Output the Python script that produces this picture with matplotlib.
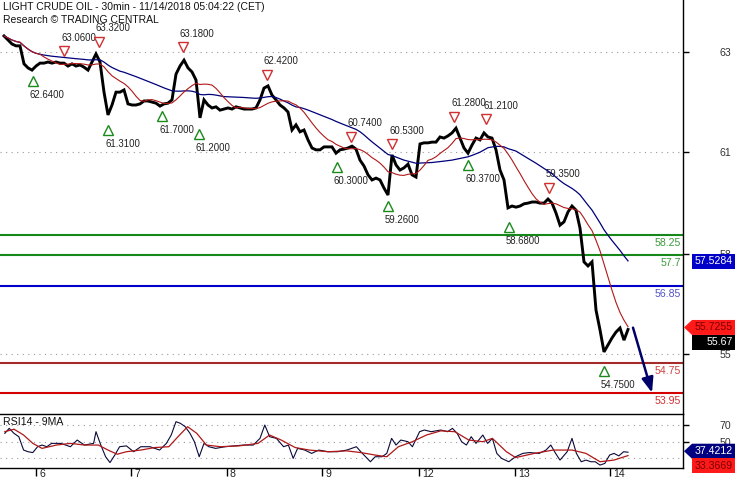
import numpy as np
import pandas as pd
import matplotlib
matplotlib.use("Agg")
import matplotlib.pyplot as plt
from matplotlib.patches import Polygon
from matplotlib import transforms

plt.rcParams['font.family'] = ['Liberation Sans', 'DejaVu Sans']

# ---------------- data ----------------
title = "LIGHT CRUDE OIL - 30min - 11/14/2018 05:04:22 (CET)"
subtitle = "Research \u00a9 TRADING CENTRAL"

# hourly closes (index 0 .. 156)
close = [
    63.66, 63.55, 63.44, 63.39, 63.39, 62.90, 62.79, 62.73, 62.84, 62.92,
    62.92, 62.95, 62.92, 62.95, 62.92, 62.92, 62.84, 62.90, 62.84, 62.87,
    62.81, 62.73, 62.95, 63.17, 62.95, 62.13, 61.51, 61.78, 62.13, 62.13,
    62.19, 61.81, 61.78, 61.78, 61.81, 61.89, 61.89, 61.86, 61.83, 61.75,
    61.81, 61.83, 61.92, 62.62, 62.84, 63.00, 62.79, 62.68, 62.46, 61.43,
    61.92, 61.78, 61.70, 61.73, 61.64, 61.67, 61.70, 61.67, 61.73, 61.70,
    61.67, 61.67, 61.67, 61.70, 61.92, 62.24, 62.30, 62.05, 61.92, 61.78,
    61.70, 61.59, 61.10, 61.24, 61.05, 61.10, 60.83, 60.61, 60.56, 60.56,
    60.64, 60.64, 60.64, 60.47, 60.56, 60.58, 60.61, 60.66, 60.58, 60.28,
    60.12, 59.88, 59.74, 59.79, 59.74, 59.52, 59.33, 60.42, 60.15, 60.01,
    60.07, 60.17, 59.88, 59.82, 60.72, 60.75, 60.75, 60.77, 60.77, 60.91,
    60.88, 60.94, 61.02, 61.15, 60.88, 60.61, 60.47, 60.69, 60.88, 60.83,
    61.02, 60.91, 60.88, 60.56, 60.01, 59.74, 58.98, 59.03, 59.00, 59.03,
    59.09, 59.11, 59.14, 59.14, 59.11, 59.11, 59.22, 59.11, 58.84, 58.51,
    58.60, 58.87, 59.03, 58.92, 58.43, 57.51, 57.40, 57.51, 56.20, 55.66,
    55.06, 55.25, 55.44, 55.60, 55.71, 55.38, 55.67,
]
fast_window = 10
slow_window = 25

day_labels = ['6', '7', '8', '9', '12', '13', '14']
day_pos = [8, 31.75, 55.75, 79.5, 103.75, 127.75, 151.5]

peak_x = [15, 23.75, 44.75, 65.75, 86.75, 97, 112.5, 120.5, 136.25]
peak_v = [63.06, 63.32, 63.18, 62.42, 60.74, 60.53, 61.28, 61.21, 59.35]
trough_x = [7.25, 26, 39.5, 48.75, 83.25, 95.9, 116, 126.2, 149.9]
trough_v = [62.64, 61.31, 61.70, 61.20, 60.30, 59.26, 60.37, 58.68, 54.75]

levels = [58.25, 57.7, 56.85, 54.75, 53.95]
level_labels = ['58.25', '57.7', '56.85', '54.75', '53.95']
level_colors = ['#16881a', '#16881a', '#0000c8', '#a52a2a', '#d40000']
level_text_colors = ['#3a9a3a', '#3a9a3a', '#5252c8', '#d04040', '#d03030']

arrow_from = (157.25, 55.72)
arrow_to = (162.0, 53.95)

price_ticks = [55.00, 57.72, 60.50, 63.23]
price_tick_labels = ['55', '58', '61', '63']

slow_last = '57.5284'
fast_last = '55.7255'
close_last = '55.67'

rsi_x = [0.2, 1.3, 2.5, 3.7, 4.9, 6.0, 7.2, 8.4, 9.5, 10.7,
         11.9, 14.2, 16.6, 18.3, 20.1, 22.4, 23.0, 24.2, 25.4, 26.5,
         27.7, 28.9, 30.6, 32.4, 34.2, 36.5, 38.9, 40.6, 41.8, 43.0,
         44.1, 45.3, 46.5, 47.6, 48.8, 50.0, 51.2, 52.9, 55.3, 57.6,
         59.9, 62.3, 64.0, 65.2, 66.4, 68.1, 69.9, 71.1, 72.3, 73.4,
         75.2, 76.9, 78.7, 81.0, 83.4, 85.7, 88.1, 89.2, 90.4, 91.6,
         92.8, 94.5, 95.7, 96.9, 98.0, 99.2, 101.0, 102.1, 103.9, 105.1,
         106.8, 109.2, 110.9, 112.1, 113.3, 114.4, 115.6, 116.8, 118.0, 119.7,
         120.9, 122.1, 123.2, 124.4, 126.2, 127.9, 129.7, 131.4, 133.8, 135.5,
         136.7, 137.9, 139.0, 140.8, 142.0, 143.1, 144.3, 145.5, 146.7, 147.8,
         149.0, 150.2, 151.4, 152.5, 153.7, 154.9, 156.0]
rsi_v = [60, 66, 60, 56, 40, 38, 37, 44, 46, 44,
         48, 48, 44, 52, 46, 48, 62, 46, 32, 25,
         34, 44, 45, 38, 44, 44, 40, 48, 58, 74,
         72, 68, 60, 50, 32, 48, 44, 42, 44, 45,
         46, 46, 54, 70, 56, 54, 44, 46, 30, 42,
         40, 36, 40, 38, 38, 40, 44, 38, 32, 26,
         32, 32, 36, 54, 46, 52, 50, 44, 62, 64,
         62, 64, 62, 66, 60, 50, 46, 56, 48, 58,
         48, 54, 36, 30, 26, 32, 36, 37, 36, 40,
         46, 36, 28, 38, 54, 36, 26, 28, 26, 26,
         22, 24, 34, 36, 33, 38, 37.42]
rsima_x = [0.2, 2.5, 4.9, 7.2, 9.5, 13.1, 16.6, 20.1, 23.6, 26.0,
           28.3, 30.6, 34.2, 37.7, 41.2, 43.5, 45.9, 48.2, 50.6, 54.1,
           58.8, 63.5, 66.4, 69.3, 72.8, 76.3, 81.0, 85.7, 89.2, 92.8,
           95.7, 98.6, 102.1, 105.6, 109.2, 112.7, 116.2, 119.7, 122.1, 125.6,
           127.9, 132.6, 137.3, 142.0, 145.5, 149.0, 152.5, 156.0]
rsima_v = [62, 65, 58, 48, 42, 46, 48, 46, 46, 40,
           35, 38, 40, 43, 44, 56, 68, 60, 46, 44,
           45, 48, 58, 52, 43, 40, 38, 39, 37, 34,
           32, 44, 50, 58, 63, 62, 52, 50, 54, 38,
           31, 36, 40, 40, 36, 26, 28, 33.37]
rsi_ticks = [30, 50, 70]
rsi_last = '37.4212'
rsima_last = '33.3669'

# ---------------- figure ----------------
W, H = 735, 480
fig = plt.figure(figsize=(W / 100, H / 100), dpi=100)
AXR = 683  # right edge of plot area (px)
ax = fig.add_axes([0, (H - 414) / H, AXR / W, 414 / H])
axr = fig.add_axes([0, 12 / H, AXR / W, 54 / H])

xs = np.arange(len(close))
s = pd.Series(close)
fast = s.rolling(fast_window, min_periods=1).mean()
slow = s.rolling(slow_window, min_periods=1).mean()

XL = (-1, 169.75)
ax.set_xlim(*XL)
ax.set_ylim(53.37, 64.638)

grid_kw = dict(color='#9a9a9a', lw=0.8, ls=(0, (1, 4)))
for t in price_ticks:
    ax.axhline(t, **grid_kw, zorder=0)

ax.plot(xs, close, color='black', lw=2.1, zorder=3, solid_joinstyle='miter')
ax.plot(xs, slow, color='#00007a', lw=0.9, zorder=4)
ax.plot(xs, fast, color='#b01818', lw=0.8, zorder=4)

for lv, lab, c, tc in zip(levels, level_labels, level_colors, level_text_colors):
    ax.axhline(lv, color=c, lw=1.5, zorder=2)
    ax.annotate(lab, xy=(1, lv), xycoords=('axes fraction', 'data'),
                xytext=(-2, -8), textcoords='offset pixels', ha='right',
                va='center', color=tc, fontsize=7.6)

up_tr = transforms.offset_copy(ax.transData, fig=fig, x=0, y=6.5, units='dots')
dn_tr = transforms.offset_copy(ax.transData, fig=fig, x=0, y=-8, units='dots')
lbl_kw = dict(textcoords='offset pixels', ha='left', va='center',
              fontsize=6.9, color='#222222')
ax.plot(peak_x, peak_v, transform=up_tr, marker='v', ms=7.5, mfc='white',
        mec='#d03030', mew=1.0, zorder=6, linestyle='none')
ax.plot(trough_x, trough_v, transform=dn_tr, marker='^', ms=7.5, mfc='white',
        mec='#1a8a1a', mew=1.0, zorder=6, linestyle='none')
for x, v in zip(peak_x, peak_v):
    ax.annotate(f"{v:.4f}", xy=(x, v), xytext=(-3, 20), **lbl_kw)
for x, v in zip(trough_x, trough_v):
    ax.annotate(f"{v:.4f}", xy=(x, v), xytext=(-3, -22), **lbl_kw)

ax.annotate('', xy=arrow_to, xytext=arrow_from,
            arrowprops=dict(arrowstyle='-|>,head_length=0.9,head_width=0.35',
                            color='#00006a', lw=1.8, shrinkA=0, shrinkB=0),
            zorder=7)

for sp in ['left', 'top', 'bottom']:
    ax.spines[sp].set_visible(False)
ax.spines['right'].set_linewidth(1.0)
ax.set_xticks([])
ax.yaxis.tick_right()
ax.set_yticks(price_ticks)
ax.set_yticklabels(price_tick_labels)
ax.tick_params(axis='y', length=4, width=1, pad=22, labelsize=7.6,
               colors='black', labelcolor='#333333')

ax.text(3 / AXR, 1 - 7 / 414, title, transform=ax.transAxes, fontsize=7.45,
        va='center', ha='left', color='#111111')
ax.text(3 / AXR, 1 - 20 / 414, subtitle, transform=ax.transAxes,
        fontsize=7.45, va='center', ha='left', color='#111111')

# ---------------- RSI panel ----------------
axr.set_xlim(*XL)
axr.set_ylim(18.5, 83.2)
for t in rsi_ticks:
    axr.axhline(t, **grid_kw, zorder=0)
axr.plot(rsi_x, rsi_v, color='#0a0a3a', lw=0.8, zorder=3)
axr.plot(rsima_x, rsima_v, color='#b01818', lw=0.9, zorder=4)
axr.spines['left'].set_visible(False)
for sp in ['top', 'bottom', 'right']:
    axr.spines[sp].set_linewidth(1.0)
axr.yaxis.tick_right()
axr.set_yticks([50, 70])
axr.tick_params(axis='y', length=4, width=1, pad=22, labelsize=7.6,
                labelcolor='#333333')
axr.set_xticks(day_pos)
axr.set_xticklabels([])
axr.tick_params(axis='x', length=6, width=1, direction='out')
for p, lab in zip(day_pos, day_labels):
    axr.annotate(lab, xy=(p, 0), xycoords=('data', 'axes fraction'),
                 xytext=(3, -1), textcoords='offset pixels', ha='left',
                 va='top', fontsize=7.6, color='#222222')
axr.text(3 / AXR, 1 - 8 / 54, 'RSI14 - 9MA', transform=axr.transAxes,
         fontsize=7.6, va='center', ha='left', color='#111111')

# ---------------- value flags on the right ----------------
fig.canvas.draw()


def flag(a, value, text, fc, tc, pointed, dy=0, x0=684, h=15):
    _, yp = a.transData.transform((0, value))
    yp += dy
    x1 = W
    if pointed:
        verts = [(x0, yp), (x0 + 8, yp + h / 2), (x1, yp + h / 2),
                 (x1, yp - h / 2), (x0 + 8, yp - h / 2)]
    else:
        verts = [(x0, yp + h / 2), (x1, yp + h / 2), (x1, yp - h / 2),
                 (x0, yp - h / 2)]
    verts = [(vx / W, vy / H) for vx, vy in verts]
    fig.add_artist(Polygon(verts, closed=True, transform=fig.transFigure,
                           fc=fc, ec='none', zorder=20))
    fig.text((x1 - 2) / W, yp / H, text, ha='right', va='center',
             fontsize=7.6, color=tc, zorder=21)


flag(ax, float(slow_last), slow_last, '#0000c8', 'white', False, x0=692)
flag(ax, float(fast_last), fast_last, '#ff1a1a', '#7a0000', True)
flag(ax, float(close_last), close_last, 'black', 'white', False, dy=-13, x0=692)
flag(axr, float(rsi_last), rsi_last, '#000080', 'white', True, dy=1)
flag(axr, float(rsima_last), rsima_last, '#ff1a1a', '#7a0000', False, dy=-10, x0=692)

fig.savefig('out.png', dpi=100)
